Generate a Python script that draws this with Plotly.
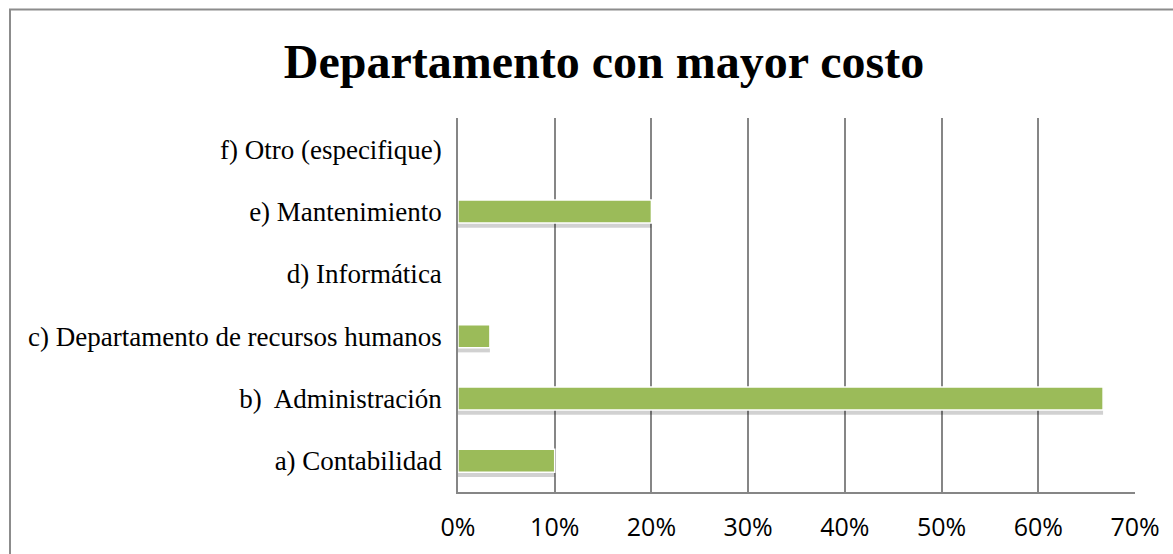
import plotly.graph_objects as go

categories = [
    "a) Contabilidad",
    "b)  Administración",
    "c) Departamento de recursos humanos",
    "d) Informática",
    "e) Mantenimiento",
    "f) Otro (especifique)",
]
values = [0.10, 0.667, 0.033, 0.0, 0.20, 0.0]
tick_vals = [0, 0.1, 0.2, 0.3, 0.4, 0.5, 0.6, 0.7]
tick_text = ["0%", "10%", "20%", "30%", "40%", "50%", "60%", "70%"]

W, H = 1173, 554
L, R, T, B = 458, 38, 118, 62
pw, ph = W - L - R, H - T - B

bar_w = 0.37
fig = go.Figure()
# soft shadow under the bars
fig.add_trace(go.Bar(
    y=categories, x=values, orientation="h",
    width=bar_w, offset=-bar_w / 2 - 0.075,
    marker=dict(color="rgba(0,0,0,0.18)", line=dict(width=0)),
    hoverinfo="skip", showlegend=False,
))
fig.add_trace(go.Bar(
    y=categories, x=values, orientation="h",
    width=bar_w, offset=-bar_w / 2,
    marker=dict(color="#9BBB59", line=dict(color="white", width=1.5)),
    showlegend=False,
))

def px_x(x):
    return (x - L) / pw

def px_y(y):
    return (H - B - y) / ph

# outer chart border (right/bottom clipped like the reference)
fig.add_shape(type="rect", xref="paper", yref="paper",
              x0=px_x(10), x1=px_x(W + 10), y0=px_y(H + 10), y1=px_y(9.5),
              line=dict(color="#8c8c8c", width=2), layer="below")

fig.update_layout(
    width=W, height=H,
    margin=dict(l=L, r=R, t=T, b=B, pad=0),
    paper_bgcolor="white", plot_bgcolor="white",
    barmode="overlay",
    title=dict(text="<b>Departamento con mayor costo</b>",
               font=dict(family="Liberation Serif", size=48, color="black"),
               x=604 / W, xref="container", xanchor="center",
               y=1 - 61 / H, yanchor="middle"),
    xaxis=dict(range=[0, 0.7], tickvals=tick_vals, ticktext=tick_text,
               showgrid=True, gridcolor="#868686", gridwidth=1.5,
               showline=True, linecolor="#868686", linewidth=1.5,
               zeroline=False, ticks="", ticklabelstandoff=12,
               tickfont=dict(family="Open Sans", size=25, color="black"),
               fixedrange=True),
    yaxis=dict(showgrid=False, showline=True, linecolor="#868686", linewidth=1.5,
               ticks="", ticklabelstandoff=9,
               categoryorder="array", categoryarray=categories,
               tickfont=dict(family="Liberation Serif", size=27, color="black"),
               range=[-0.5, 5.5], fixedrange=True),
)

fig.write_html("out.html")
